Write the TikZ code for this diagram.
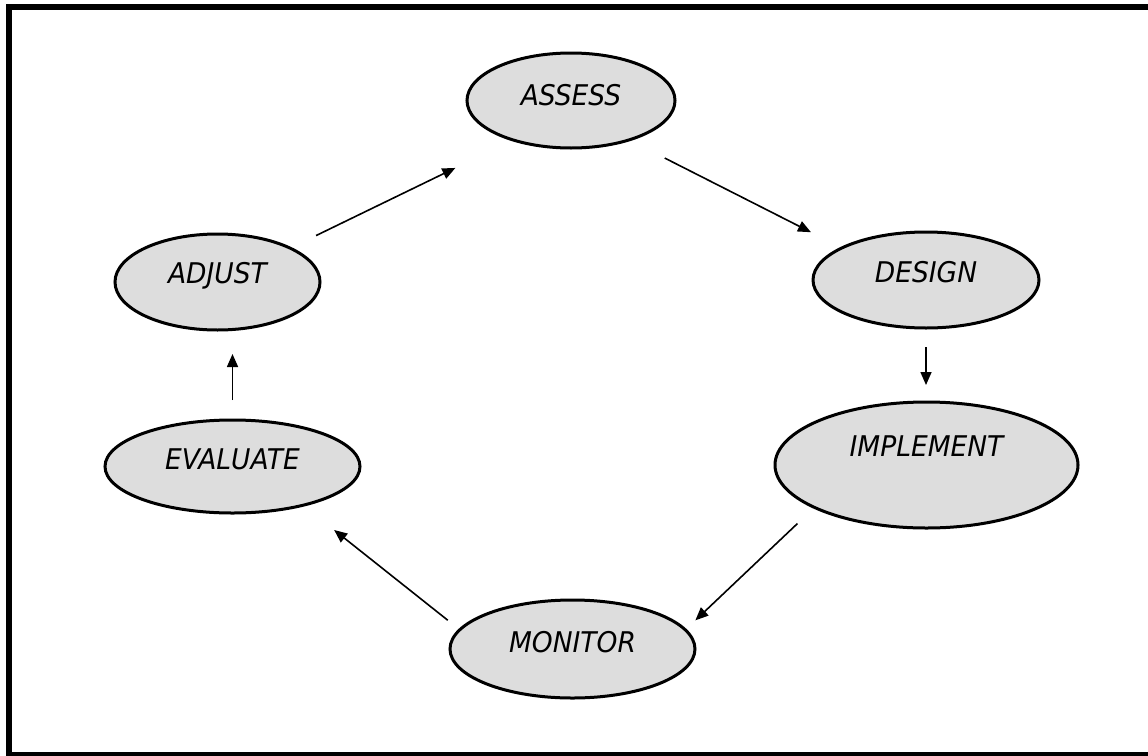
\documentclass[tikz,border=0pt]{standalone}
\usepackage{fontspec}
\newfontfamily\lblfont{DejaVu Sans}[FakeStretch=0.93]
\usetikzlibrary{shapes.geometric,arrows.meta}
\definecolor{ellfill}{RGB}{221,221,221}
\begin{document}
\begin{tikzpicture}[x=1pt,y=-1pt,
  stage/.style={ellipse, draw=black, line width=3pt, fill=ellfill, inner sep=0pt,
    text height=21pt, font=\lblfont\itshape\fontsize{28.5}{30}\selectfont},
  flow/.style={-{Triangle[length=13pt,width=11pt]}, line width=1.6pt, draw=black}]
\useasboundingbox (0,0) rectangle (1148,755);
\draw[line width=6pt] (9,7) rectangle (1160,755);
\node[stage, minimum width=208pt, minimum height=95pt, text depth=11.2pt] (assess) at (571,100.5) {ASSESS};
\node[stage, minimum width=226pt, minimum height=96pt, text depth=16.2pt] (design) at (926,280) {DESIGN};
\node[stage, minimum width=303pt, minimum height=126pt, text depth=38.2pt] (implement) at (926.5,465) {IMPLEMENT};
\node[stage, minimum width=245pt, minimum height=98pt, text depth=14.2pt] (monitor) at (572.5,649) {MONITOR};
\node[stage, minimum width=255pt, minimum height=93pt, text depth=15.2pt] (evaluate) at (232.5,466.5) {EVALUATE};
\node[stage, minimum width=205pt, minimum height=96pt, text depth=18.2pt] (adjust) at (217.5,282) {ADJUST};
\draw[flow, shorten <=27pt, shorten >=62pt] (adjust.25.7) -- (assess.214.9);
\draw[flow, shorten <=38pt, shorten >=33pt] (assess.326.6) -- (design.159.4);
\draw[flow, shorten <=17.5pt, shorten >=15.5pt] (design.south) -- (design.south |- implement.north);
\draw[flow, shorten <=22pt, shorten >=12.5pt] (implement.201.4) -- (monitor.10.5);
\draw[flow, shorten <=14pt, shorten >=38pt] (monitor.170.9) -- (evaluate.331.9);
\draw[flow, shorten <=18.5pt, shorten >=22.5pt] (evaluate.north) -- (evaluate.north |- adjust.south);
\end{tikzpicture}
\end{document}
